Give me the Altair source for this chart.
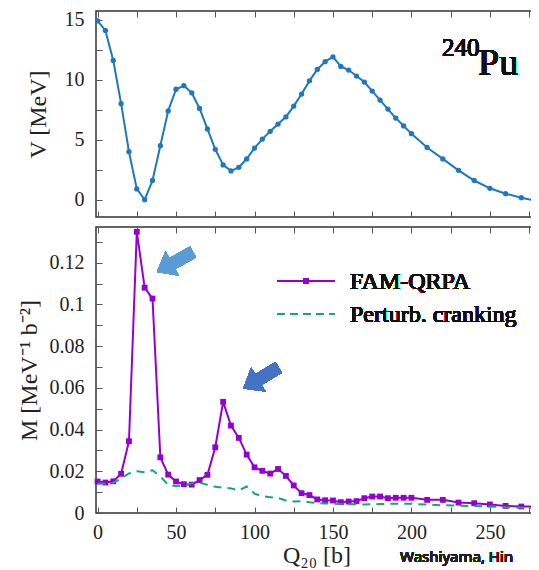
import altair as alt
import pandas as pd

# ---------------- data ----------------
Q = [0, 5, 10, 15, 20, 25, 30, 35, 40, 45, 50, 55, 60, 65, 70, 75, 80, 85, 90, 95,
     100, 105, 110, 115, 120, 125, 130, 135, 140, 145, 150, 155, 160, 165, 170, 175,
     180, 185, 190, 195, 200, 210, 220, 230, 240, 250, 260, 270, 280]

V = [14.9, 14.1, 11.6, 8.0, 4.0, 0.9, 0.0, 1.6, 4.5, 7.4, 9.2, 9.5, 8.9, 7.6, 5.9, 4.2,
     2.9, 2.4, 2.7, 3.4, 4.3, 5.05, 5.7, 6.3, 6.9, 7.8, 8.8, 9.9, 10.85, 11.5, 11.9,
     11.1, 10.8, 10.3, 9.8, 9.05, 8.3, 7.55, 6.8, 6.15, 5.5, 4.35, 3.4, 2.45, 1.6, 0.95,
     0.5, 0.17, -0.1]

M_FAM = [0.0151, 0.0146, 0.0152, 0.0188, 0.0344, 0.1348, 0.108, 0.1028, 0.0267, 0.0184,
         0.0151, 0.0138, 0.0136, 0.0158, 0.0183, 0.0315, 0.0533, 0.0419, 0.036, 0.028,
         0.0219, 0.0202, 0.0189, 0.0211, 0.0178, 0.0132, 0.0095, 0.0086, 0.0065, 0.0061,
         0.006, 0.0052, 0.0055, 0.0057, 0.0071, 0.0079, 0.0079, 0.0071, 0.0073, 0.0073,
         0.0073, 0.0063, 0.0063, 0.005, 0.0047, 0.0041, 0.0034, 0.0031, 0.0031]

M_PC = [0.0142, 0.0140, 0.0145, 0.0165, 0.0190, 0.0200, 0.0195, 0.0205, 0.0175, 0.0135,
        0.0128, 0.0132, 0.0142, 0.0145, 0.0135, 0.0126, 0.0121, 0.0118, 0.0108, 0.0127,
        0.0093, 0.0080, 0.0076, 0.0072, 0.0060, 0.0055, 0.0057, 0.0052, 0.0048, 0.0046,
        0.0044, 0.0043, 0.0042, 0.0042, 0.0041, 0.0042, 0.0043, 0.0044, 0.0044, 0.0044,
        0.0044, 0.0040, 0.0037, 0.0035, 0.0033, 0.0031, 0.0028, 0.0025, 0.0023]

SERIES = ["FAM-QRPA", "Perturb. cranking"]

X_TICKS = [0, 25, 50, 75, 100, 125, 150, 175, 200, 225, 250, 275]
X_LABELS = [0, 50, 100, 150, 200, 250]
V_TICKS = [0, 2.5, 5, 7.5, 10, 12.5, 15]
V_LABELS = [0, 5, 10, 15]
M_TICKS = [0, 0.01, 0.02, 0.03, 0.04, 0.05, 0.06, 0.07, 0.08, 0.09, 0.1, 0.11, 0.12, 0.13]
M_LABELS = [0, 0.02, 0.04, 0.06, 0.08, 0.1, 0.12]

# ---------------- styling ----------------
W = 441
H1 = 206
H2 = 286
SERIF = "Liberation Serif"
BLUE = "#1f78bf"
PURPLE = "#9400d3"
GREEN = "#17a57a"
TICK = "#555555"

top_df = pd.DataFrame({"Q": Q, "V": V})
fam_df = pd.DataFrame({"Q": Q, "M": M_FAM})
pc_df = pd.DataFrame({"Q": Q, "M": M_PC})

xscale = alt.Scale(domain=[-1, 280], nice=False, zero=False)
vscale = alt.Scale(domain=[-1.44, 15.72], nice=False, zero=False)
mscale = alt.Scale(domain=[0, 0.1371], nice=False, zero=False)

tick_common = dict(labels=False, domain=False, grid=False, tickSize=6,
                   tickColor=TICK, tickWidth=1, title=None)


def tick_layers(df, yf, yscale, yticks, H):
    """Invisible layers whose axes draw inward ticks on the four frame sides."""
    a = alt.Chart(df).mark_point(opacity=0).encode(
        x=alt.X("Q:Q", scale=xscale,
                axis=alt.Axis(orient="top", offset=-H, values=X_TICKS, **tick_common)),
        y=alt.Y(f"{yf}:Q", scale=yscale,
                axis=alt.Axis(orient="right", offset=-W, values=yticks, **tick_common)),
    )
    b = alt.Chart(df).mark_point(opacity=0).encode(
        x=alt.X("Q:Q", scale=xscale,
                axis=alt.Axis(orient="bottom", offset=-H, values=X_TICKS, **tick_common)),
        y=alt.Y(f"{yf}:Q", scale=yscale,
                axis=alt.Axis(orient="left", offset=-W, values=yticks, **tick_common)),
    )
    return [a, b]


# ---------------- top panel ----------------
v_line = alt.Chart(top_df).mark_line(color=BLUE, strokeWidth=2).encode(
    x=alt.X("Q:Q", scale=xscale, axis=None),
    y=alt.Y("V:Q", scale=vscale,
            axis=alt.Axis(orient="left", values=V_LABELS, ticks=False, domain=False,
                          grid=False, labelPadding=12, labelFontSize=20,
                          labelFont=SERIF, labelColor="#222", title="V [MeV]",
                          titleFont=SERIF, titleFontSize=24, titleFontWeight="normal",
                          titleColor="#222", titlePadding=14)),
)
v_pts = alt.Chart(top_df).mark_circle(color=BLUE, size=28, opacity=1).encode(
    x=alt.X("Q:Q", scale=xscale, axis=None), y=alt.Y("V:Q", scale=vscale, axis=None))

pu_mass = alt.Chart(top_df).mark_text(
    text="240", font=SERIF, fontSize=25, fontWeight="normal", align="left",
    baseline="alphabetic", color="#111"
).encode(x=alt.value(346), y=alt.value(45))
pu_sym = alt.Chart(top_df).mark_text(
    text="Pu", font=SERIF, fontSize=38, fontWeight="normal", align="left",
    baseline="alphabetic", color="#111"
).encode(x=alt.value(382), y=alt.value(64))

top = alt.layer(v_line, v_pts, *tick_layers(top_df, "V", vscale, V_TICKS, H1),
                pu_mass, pu_sym).resolve_axis(x="independent", y="independent"
                                              ).properties(width=W, height=H1)

# ---------------- bottom panel ----------------
fam_line = alt.Chart(fam_df).mark_line(color=PURPLE, strokeWidth=2).encode(
    x=alt.X("Q:Q", scale=xscale,
            axis=alt.Axis(orient="bottom", values=X_LABELS, ticks=False, domain=False,
                          grid=False, labelPadding=9, labelFontSize=20, labelFont=SERIF,
                          labelColor="#222", title="Q₂₀ [b]", titleFont=SERIF,
                          titleFontSize=24, titleFontWeight="normal", titleColor="#222",
                          titlePadding=1)),
    y=alt.Y("M:Q", scale=mscale,
            axis=alt.Axis(orient="left", values=M_LABELS, format="~g", ticks=False,
                          domain=False, grid=False, labelPadding=12, labelFontSize=20,
                          labelFont=SERIF, labelColor="#222", title="M [MeV⁻¹ b⁻²]",
                          titleFont=SERIF, titleFontSize=24, titleFontWeight="normal",
                          titleColor="#222", titlePadding=8)),
)
fam_pts = alt.Chart(fam_df).mark_square(color=PURPLE, size=34, opacity=1).encode(
    x=alt.X("Q:Q", scale=xscale, axis=None), y=alt.Y("M:Q", scale=mscale, axis=None))
pc_line = alt.Chart(pc_df).mark_line(color=GREEN, strokeWidth=2, strokeDash=[8, 6]).encode(
    x=alt.X("Q:Q", scale=xscale, axis=None), y=alt.Y("M:Q", scale=mscale, axis=None))

# legend (drawn by hand, positions in pixels of the panel)
leg_fam_line = alt.Chart(fam_df).mark_rule(color=PURPLE, strokeWidth=2).encode(
    x=alt.value(181), x2=alt.value(239), y=alt.value(54))
leg_fam_pt = alt.Chart(fam_df).mark_square(color=PURPLE, size=34, opacity=1).encode(
    x=alt.value(210), y=alt.value(54))
leg_fam_txt = alt.Chart(fam_df).mark_text(
    text=SERIES[0], font=SERIF, fontSize=24, fontWeight="normal", align="left",
    baseline="middle", color="#111"
).encode(x=alt.value(254), y=alt.value(55))
leg_pc_line = alt.Chart(pc_df).mark_rule(color=GREEN, strokeWidth=2, strokeDash=[8, 5]).encode(
    x=alt.value(181), x2=alt.value(239), y=alt.value(87))
leg_pc_txt = alt.Chart(pc_df).mark_text(
    text=SERIES[1], font=SERIF, fontSize=24, fontWeight="normal", align="left",
    baseline="middle", color="#111"
).encode(x=alt.value(254), y=alt.value(88))

ARROW = "M -1 0 L -0.15 -0.68 L -0.15 -0.3 L 1 -0.3 L 1 0.3 L -0.15 0.3 L -0.15 0.68 Z"
arrow1 = alt.Chart(fam_df).mark_point(
    shape=ARROW, size=1700, angle=331, filled=True, color="#5b9bd5", opacity=1, strokeWidth=0
).encode(x=alt.value(79), y=alt.value(35))
arrow2 = alt.Chart(fam_df).mark_point(
    shape=ARROW, size=1700, angle=329, filled=True, color="#4472c4", opacity=1, strokeWidth=0
).encode(x=alt.value(165), y=alt.value(151))

credit = alt.Chart(fam_df).mark_text(
    text="Washiyama, Hin", font="Noto Sans", fontSize=15, align="left",
    baseline="middle", color="#222"
).encode(x=alt.value(304), y=alt.value(330))

bottom = alt.layer(fam_line, fam_pts, pc_line,
                   *tick_layers(fam_df, "M", mscale, M_TICKS, H2),
                   leg_fam_line, leg_fam_pt, leg_fam_txt, leg_pc_line, leg_pc_txt,
                   arrow1, arrow2, credit
                   ).resolve_axis(x="independent", y="independent"
                                  ).properties(width=W, height=H2)

chart = alt.vconcat(top, bottom, spacing=6).properties(
    padding={"left": 8, "top": 0, "right": -11, "bottom": 0}
).configure_view(stroke="#333333", strokeWidth=1.5)

chart.save("out.html", embed_options={"renderer": "svg", "actions": False})
